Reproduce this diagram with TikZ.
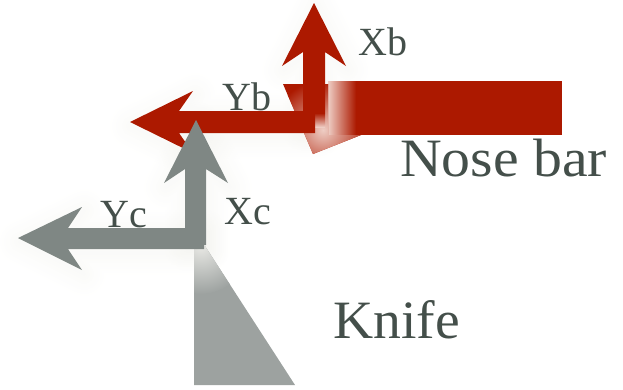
\documentclass[tikz,border=0pt]{standalone}
\usepackage{xcolor}
\usepackage{fontspec}
\setmainfont{Liberation Serif}
\newfontfamily\widefont[FakeStretch=1.07]{Liberation Serif}
\newfontfamily\knifefont[FakeStretch=1.03]{Liberation Serif}
\usetikzlibrary{positioning}
\definecolor{myred}{RGB}{172,25,0}
\definecolor{mypale}{RGB}{238,205,196}
\definecolor{mygray}{RGB}{127,135,132}
\definecolor{myknife}{RGB}{157,162,160}
\definecolor{myfade}{RGB}{232,232,228}
\definecolor{mytext}{RGB}{68,79,74}
\definecolor{myglow}{RGB}{150,150,110}
\tikzset{
  biglabel/.style={text=mytext, anchor=base west, inner sep=0pt},
  axislabel/.style={text=mytext, anchor=base west, inner sep=0pt, font=\fontsize{40}{40}\selectfont},
  glowline/.style={draw=myglow, opacity=0.004, line join=round, fill=none}
}
\newcommand{\softglow}[1]{\foreach \w in {4,8,...,44}{\draw[glowline, line width=\w pt, shift={(2,4)}] #1;}}
\begin{document}
\begin{tikzpicture}[x=1pt, y=-1pt]
  \useasboundingbox (0,0) rectangle (623,389);
  % Glow under the arrows
  \softglow{(314,3) -- (346,66) -- (325,52) -- (325,127) -- (303,127) -- (303,52) -- (282,66) -- cycle}
  \softglow{(130,122) -- (193,91) -- (179,111) -- (315,111) -- (315,133) -- (179,133) -- (193,153) -- cycle}
  \softglow{(196,120) -- (228,183) -- (206,169) -- (206,245) -- (185,245) -- (185,169) -- (164,183) -- cycle}
  \softglow{(18,238) -- (82,207) -- (68,228) -- (204,228) -- (204,249) -- (68,249) -- (82,270) -- cycle}
  % Knife
  \fill[myknife] (194,246) -- (194,385) -- (295,385) -- (205,246) -- cycle;
  \begin{scope}
    \clip (194,246) -- (194,385) -- (295,385) -- (205,246) -- cycle;
    \shade[inner color=myfade, outer color=myknife] (201,246) circle (48);
  \end{scope}
  % Nose bar
  \fill[myred] (355,81) rectangle (562,135);
  \shade[left color=mypale, right color=myred] (328,81) rectangle (356,135);
  \fill[myred] (283,84) -- (328,84) -- (328,135) -- (361,135) -- (313,154) -- cycle;
  \begin{scope}
    \clip (283,84) -- (328,84) -- (328,135) -- (361,135) -- (313,154) -- cycle;
    \shade[inner color=mypale, outer color=myred] (323,130) circle (50);
  \end{scope}
  % Red axes
  \fill[myred] (314,3) -- (346,66) -- (325,52) -- (325,113) -- (303,113) -- (303,52) -- (282,66) -- cycle;
  \shade[top color=myred, bottom color=mypale] (315,113) rectangle (325,127);
  \fill[myred] (130,122) -- (193,91) -- (179,111) -- (315,111) -- (315,133) -- (179,133) -- (193,153) -- cycle;
  % Gray axes
  \fill[mygray] (196,120) -- (228,183) -- (206,169) -- (206,245) -- (185,245) -- (185,169) -- (164,183) -- cycle;
  \fill[mygray] (18,238) -- (82,207) -- (68,228) -- (204,228) -- (204,249) -- (68,249) -- (82,270) -- cycle;
  % Labels
  \node[axislabel] (xb) at (358,55) {Xb};
  \node[axislabel] (yb) at (222,110) {Yb};
  \node[axislabel] (yc) at (100,227) {Yc};
  \node[axislabel] (xc) at (224,224) {Xc};
  \node[biglabel, font=\widefont\fontsize{54}{54}\selectfont] (nose) at (400,176) {Nose bar};
  \node[biglabel, font=\knifefont\fontsize{54}{54}\selectfont] (knife) at (333,338) {Knife};
\end{tikzpicture}
\end{document}
